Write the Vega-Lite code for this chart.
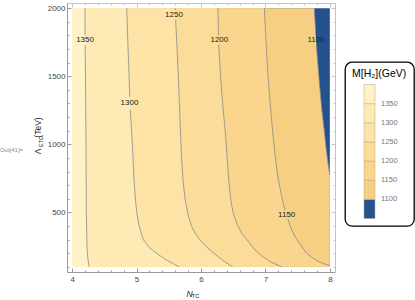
{
  "$schema": "https://vega.github.io/schema/vega-lite/v6.json",
  "width": 268,
  "height": 269,
  "autosize": {"type": "none"},
  "padding": {"left": 67, "top": 3, "right": 80, "bottom": 28},
  "background": "white",
  "config": {"view": {"stroke": null}, "font": "Liberation Sans"},
  "resolve": {"axis": {"x": "independent", "y": "independent"}},
  "datasets": {
    "ct": [
      {"c": 1100, "p": "e", "L": 2000, "N": 4.0},
      {"c": 1100, "p": "a", "L": 2000, "N": 7.759},
      {"c": 1100, "p": "a", "L": 1800, "N": 7.782},
      {"c": 1100, "p": "b", "L": 1730, "N": 7.791},
      {"c": 1100, "p": "b", "L": 1600, "N": 7.812},
      {"c": 1100, "p": "b", "L": 1399, "N": 7.847},
      {"c": 1100, "p": "b", "L": 1250, "N": 7.876},
      {"c": 1100, "p": "b", "L": 1105, "N": 7.912},
      {"c": 1100, "p": "b", "L": 958, "N": 7.945},
      {"c": 1100, "p": "b", "L": 860, "N": 7.972},
      {"c": 1100, "p": "b", "L": 774, "N": 8.0},
      {"c": 1150, "p": "e", "L": 2000, "N": 4.0},
      {"c": 1150, "p": "a", "L": 2000, "N": 6.983},
      {"c": 1150, "p": "a", "L": 1750, "N": 7.01},
      {"c": 1150, "p": "a", "L": 1502, "N": 7.04},
      {"c": 1150, "p": "a", "L": 1300, "N": 7.073},
      {"c": 1150, "p": "a", "L": 1105, "N": 7.11},
      {"c": 1150, "p": "a", "L": 958, "N": 7.141},
      {"c": 1150, "p": "a", "L": 774, "N": 7.188},
      {"c": 1150, "p": "a", "L": 615, "N": 7.253},
      {"c": 1150, "p": "a", "L": 514, "N": 7.305},
      {"c": 1150, "p": "b", "L": 448, "N": 7.35},
      {"c": 1150, "p": "b", "L": 400, "N": 7.382},
      {"c": 1150, "p": "b", "L": 321, "N": 7.459},
      {"c": 1150, "p": "b", "L": 268, "N": 7.537},
      {"c": 1150, "p": "b", "L": 230, "N": 7.59},
      {"c": 1150, "p": "b", "L": 199, "N": 7.641},
      {"c": 1150, "p": "b", "L": 170, "N": 7.72},
      {"c": 1150, "p": "b", "L": 145, "N": 7.8},
      {"c": 1150, "p": "b", "L": 125, "N": 7.89},
      {"c": 1150, "p": "b", "L": 110, "N": 8.0},
      {"c": 1200, "p": "e", "L": 2000, "N": 4.0},
      {"c": 1200, "p": "a", "L": 2000, "N": 6.264},
      {"c": 1200, "p": "a", "L": 1800, "N": 6.27},
      {"c": 1200, "p": "b", "L": 1730, "N": 6.275},
      {"c": 1200, "p": "b", "L": 1502, "N": 6.303},
      {"c": 1200, "p": "b", "L": 1300, "N": 6.335},
      {"c": 1200, "p": "b", "L": 1105, "N": 6.375},
      {"c": 1200, "p": "b", "L": 958, "N": 6.398},
      {"c": 1200, "p": "b", "L": 738, "N": 6.43},
      {"c": 1200, "p": "b", "L": 591, "N": 6.462},
      {"c": 1200, "p": "b", "L": 493, "N": 6.501},
      {"c": 1200, "p": "b", "L": 414, "N": 6.559},
      {"c": 1200, "p": "b", "L": 346, "N": 6.632},
      {"c": 1200, "p": "b", "L": 290, "N": 6.73},
      {"c": 1200, "p": "b", "L": 223, "N": 6.838},
      {"c": 1200, "p": "b", "L": 179, "N": 6.947},
      {"c": 1200, "p": "b", "L": 138, "N": 7.071},
      {"c": 1200, "p": "b", "L": 100, "N": 7.253},
      {"c": 1250, "p": "e", "L": 2000, "N": 4.0},
      {"c": 1250, "p": "a", "L": 2000, "N": 5.597},
      {"c": 1250, "p": "a", "L": 1985, "N": 5.599},
      {"c": 1250, "p": "b", "L": 1915, "N": 5.606},
      {"c": 1250, "p": "b", "L": 1766, "N": 5.622},
      {"c": 1250, "p": "b", "L": 1502, "N": 5.648},
      {"c": 1250, "p": "b", "L": 1300, "N": 5.665},
      {"c": 1250, "p": "b", "L": 1105, "N": 5.68},
      {"c": 1250, "p": "b", "L": 900, "N": 5.698},
      {"c": 1250, "p": "b", "L": 738, "N": 5.72},
      {"c": 1250, "p": "b", "L": 600, "N": 5.752},
      {"c": 1250, "p": "b", "L": 493, "N": 5.795},
      {"c": 1250, "p": "b", "L": 400, "N": 5.85},
      {"c": 1250, "p": "b", "L": 346, "N": 5.91},
      {"c": 1250, "p": "b", "L": 300, "N": 5.98},
      {"c": 1250, "p": "b", "L": 260, "N": 6.055},
      {"c": 1250, "p": "b", "L": 224, "N": 6.14},
      {"c": 1250, "p": "b", "L": 180, "N": 6.25},
      {"c": 1250, "p": "b", "L": 140, "N": 6.36},
      {"c": 1250, "p": "b", "L": 100, "N": 6.49},
      {"c": 1300, "p": "e", "L": 2000, "N": 4.0},
      {"c": 1300, "p": "a", "L": 2000, "N": 4.847},
      {"c": 1300, "p": "a", "L": 1700, "N": 4.868},
      {"c": 1300, "p": "a", "L": 1350, "N": 4.895},
      {"c": 1300, "p": "b", "L": 1255, "N": 4.903},
      {"c": 1300, "p": "b", "L": 1105, "N": 4.921},
      {"c": 1300, "p": "b", "L": 1000, "N": 4.935},
      {"c": 1300, "p": "b", "L": 752, "N": 4.958},
      {"c": 1300, "p": "b", "L": 591, "N": 4.983},
      {"c": 1300, "p": "b", "L": 503, "N": 5.002},
      {"c": 1300, "p": "b", "L": 400, "N": 5.038},
      {"c": 1300, "p": "b", "L": 300, "N": 5.104},
      {"c": 1300, "p": "b", "L": 245, "N": 5.19},
      {"c": 1300, "p": "b", "L": 199, "N": 5.312},
      {"c": 1300, "p": "b", "L": 150, "N": 5.46},
      {"c": 1300, "p": "b", "L": 100, "N": 5.663},
      {"c": 1350, "p": "e", "L": 2000, "N": 4.0},
      {"c": 1350, "p": "a", "L": 2000, "N": 4.199},
      {"c": 1350, "p": "a", "L": 1800, "N": 4.201},
      {"c": 1350, "p": "b", "L": 1730, "N": 4.202},
      {"c": 1350, "p": "b", "L": 1500, "N": 4.207},
      {"c": 1350, "p": "b", "L": 1000, "N": 4.215},
      {"c": 1350, "p": "b", "L": 500, "N": 4.22},
      {"c": 1350, "p": "b", "L": 250, "N": 4.23},
      {"c": 1350, "p": "b", "L": 150, "N": 4.246},
      {"c": 1350, "p": "b", "L": 100, "N": 4.266}
    ],
    "lab": [
      {"t": "1350", "N": 4.2, "L": 1766},
      {"t": "1300", "N": 4.89, "L": 1303},
      {"t": "1250", "N": 5.58, "L": 1950},
      {"t": "1200", "N": 6.285, "L": 1766},
      {"t": "1150", "N": 7.33, "L": 481},
      {"t": "1100", "N": 7.786, "L": 1766}
    ]
  },
  "layer": [
    {
      "data": {"values": [{}]},
      "mark": {"type": "rect"},
      "encoding": {
        "x": {"datum": 4, "type": "quantitative",
          "scale": {"domain": [3.92, 8.08], "nice": false, "zero": false},
          "axis": {"orient": "bottom", "values": [4, 5, 6, 7, 8], "format": "d", "grid": false,
            "tickSize": -4, "tickColor": "#9a9a9a", "domainColor": "#9a9a9a", "labelPadding": 7,
            "labelFont": "Liberation Sans", "labelFontSize": 8, "labelColor": "#444", "labelFlush": false,
            "title": "N", "titleFont": "Liberation Sans", "titleFontStyle": "italic", "titleFontWeight": "normal",
            "titleFontSize": 8.5, "titleColor": "#222", "titleX": 122, "titleY": 21, "titleAlign": "center", "titleBaseline": "middle"}},
        "x2": {"datum": 8},
        "y": {"datum": 100, "type": "quantitative",
          "scale": {"domain": [62, 2038], "nice": false, "zero": false},
          "axis": {"orient": "left", "values": [500, 1000, 1500, 2000], "format": "d", "grid": false,
            "tickSize": -4, "tickColor": "#9a9a9a", "domainColor": "#9a9a9a", "labelPadding": 6,
            "labelFont": "Liberation Sans", "labelFontSize": 8, "labelColor": "#444", "labelFlush": false,
            "title": "Λ", "titleFont": "Liberation Sans", "titleFontWeight": "normal", "titleFontSize": 8.5,
            "titleColor": "#222", "titleX": -29.5, "titleY": 148, "titleAngle": -90, "titleAlign": "center", "titleBaseline": "middle"}},
        "y2": {"datum": 2000},
        "color": {"datum": 1075, "type": "quantitative",
          "scale": {"type": "threshold", "domain": [1100, 1150, 1200, 1250, 1300, 1350],
            "range": ["#23528e", "#f7cf83", "#f9d58d", "#fbdc98", "#fde3a6", "#feeab4", "#fff2c7"]},
          "legend": {"orient": "none", "legendX": 278, "legendY": 59, "direction": "vertical", "type": "gradient",
            "title": "M[H₂](GeV)", "titleFont": "Liberation Sans", "titleFontSize": 10.5, "titleFontWeight": "normal",
            "titleColor": "#000", "titlePadding": 5, "padding": 7, "strokeColor": "#000", "cornerRadius": 7,
            "fillColor": "#fff", "gradientLength": 134, "gradientThickness": 11,
            "gradientStrokeColor": "#b5a88a", "gradientStrokeWidth": 0.5, "format": "d",
            "labelFont": "Liberation Sans", "labelFontSize": 7.5, "labelColor": "#777", "labelOffset": 18, "labelOverlap": false,
            "encode": {"gradient": {"update": {"x": {"value": 12}}}, "legend": {"update": {"strokeWidth": {"value": 1.3}}}}}}
      }
    },
    {
      "data": {"name": "ct"},
      "transform": [{"filter": "datum.c === 1100"}],
      "mark": {"type": "area", "color": "#f7cf83"},
      "encoding": {
        "x": {"field": "N", "type": "quantitative", "axis": null},
        "y": {"field": "L", "type": "quantitative", "axis": null, "stack": null},
        "y2": {"datum": 100}
      }
    },
    {
      "data": {"name": "ct"},
      "transform": [{"filter": "datum.c === 1150"}],
      "mark": {"type": "area", "color": "#f9d58d"},
      "encoding": {
        "x": {"field": "N", "type": "quantitative", "axis": null},
        "y": {"field": "L", "type": "quantitative", "axis": null, "stack": null},
        "y2": {"datum": 100}
      }
    },
    {
      "data": {"name": "ct"},
      "transform": [{"filter": "datum.c === 1200"}],
      "mark": {"type": "area", "color": "#fbdc98"},
      "encoding": {
        "x": {"field": "N", "type": "quantitative", "axis": null},
        "y": {"field": "L", "type": "quantitative", "axis": null, "stack": null},
        "y2": {"datum": 100}
      }
    },
    {
      "data": {"name": "ct"},
      "transform": [{"filter": "datum.c === 1250"}],
      "mark": {"type": "area", "color": "#fde3a6"},
      "encoding": {
        "x": {"field": "N", "type": "quantitative", "axis": null},
        "y": {"field": "L", "type": "quantitative", "axis": null, "stack": null},
        "y2": {"datum": 100}
      }
    },
    {
      "data": {"name": "ct"},
      "transform": [{"filter": "datum.c === 1300"}],
      "mark": {"type": "area", "color": "#feeab4"},
      "encoding": {
        "x": {"field": "N", "type": "quantitative", "axis": null},
        "y": {"field": "L", "type": "quantitative", "axis": null, "stack": null},
        "y2": {"datum": 100}
      }
    },
    {
      "data": {"name": "ct"},
      "transform": [{"filter": "datum.c === 1350"}],
      "mark": {"type": "area", "color": "#fff2c7"},
      "encoding": {
        "x": {"field": "N", "type": "quantitative", "axis": null},
        "y": {"field": "L", "type": "quantitative", "axis": null, "stack": null},
        "y2": {"datum": 100}
      }
    },
    {
      "data": {"name": "ct"},
      "transform": [{"filter": "datum.p === 'a'"}],
      "mark": {"type": "line", "stroke": "#8a8a8a", "strokeWidth": 0.8},
      "encoding": {
        "y": {"field": "L", "type": "quantitative",
          "scale": {"domain": [62, 2038], "nice": false, "zero": false},
          "axis": {"orient": "left", "values": [100,200,300,400,500,600,700,800,900,1000,1100,1200,1300,1400,1500,1600,1700,1800,1900,2000],
            "labels": false, "domain": false, "grid": false, "tickSize": -2, "tickColor": "#9a9a9a",
            "title": "ETC", "titleFont": "Liberation Sans", "titleFontWeight": "normal", "titleFontSize": 5.5,
            "titleColor": "#222", "titleX": -27, "titleY": 138, "titleAngle": -90, "titleAlign": "center", "titleBaseline": "middle"}},
        "x": {"field": "N", "type": "quantitative",
          "scale": {"domain": [3.92, 8.08], "nice": false, "zero": false},
          "axis": {"orient": "bottom", "values": [4.2,4.4,4.6,4.8,5.2,5.4,5.6,5.8,6.2,6.4,6.6,6.8,7.2,7.4,7.6,7.8],
            "labels": false, "domain": false, "grid": false, "tickSize": -2, "tickColor": "#9a9a9a",
            "title": "TC", "titleFont": "Liberation Sans", "titleFontWeight": "normal", "titleFontSize": 5.5,
            "titleColor": "#222", "titleX": 128, "titleY": 23, "titleAlign": "center", "titleBaseline": "middle"}},
        "detail": {"field": "c"},
        "order": {"field": "L"}
      }
    },
    {
      "data": {"name": "ct"},
      "transform": [{"filter": "datum.p === 'b'"}],
      "mark": {"type": "line", "stroke": "#8a8a8a", "strokeWidth": 0.8},
      "encoding": {
        "x": {"field": "N", "type": "quantitative",
          "scale": {"domain": [3.92, 8.08], "nice": false, "zero": false},
          "axis": {"orient": "top", "values": [4, 5, 6, 7, 8], "labels": false, "grid": false,
            "tickSize": -4, "tickColor": "#c4c4c4", "domainColor": "#c4c4c4", "title": null}},
        "y": {"field": "L", "type": "quantitative",
          "scale": {"domain": [62, 2038], "nice": false, "zero": false},
          "axis": {"orient": "right", "values": [500, 1000, 1500, 2000], "labels": false, "grid": false,
            "tickSize": -4, "tickColor": "#c4c4c4", "domainColor": "#c4c4c4",
            "title": "(TeV)", "titleFont": "Liberation Sans", "titleFontWeight": "normal", "titleFontSize": 8.5,
            "titleColor": "#222", "titleX": -297.5, "titleY": 124, "titleAngle": -90, "titleAlign": "center", "titleBaseline": "middle"}},
        "detail": {"field": "c"},
        "order": {"field": "L"}
      }
    },
    {
      "data": {"name": "lab"},
      "mark": {"type": "text", "font": "Liberation Sans", "fontSize": 8, "color": "#222"},
      "encoding": {
        "x": {"field": "N", "type": "quantitative",
          "scale": {"domain": [3.92, 8.08], "nice": false, "zero": false},
          "axis": {"orient": "top", "values": [4.2,4.4,4.6,4.8,5.2,5.4,5.6,5.8,6.2,6.4,6.6,6.8,7.2,7.4,7.6,7.8],
            "labels": false, "domain": false, "grid": false, "tickSize": -2, "tickColor": "#c4c4c4", "title": null}},
        "y": {"field": "L", "type": "quantitative",
          "scale": {"domain": [62, 2038], "nice": false, "zero": false},
          "axis": {"orient": "right", "values": [100,200,300,400,500,600,700,800,900,1000,1100,1200,1300,1400,1500,1600,1700,1800,1900,2000],
            "labels": false, "domain": false, "grid": false, "tickSize": -2, "tickColor": "#c4c4c4",
            "title": "Out[41]=", "titleFont": "Liberation Sans", "titleFontWeight": "normal", "titleFontSize": 6,
            "titleColor": "#8a8a8a", "titleX": -324, "titleY": 146, "titleAngle": 0, "titleAlign": "center", "titleBaseline": "middle"}},
        "text": {"field": "t"}
      }
    }
  ]
}
